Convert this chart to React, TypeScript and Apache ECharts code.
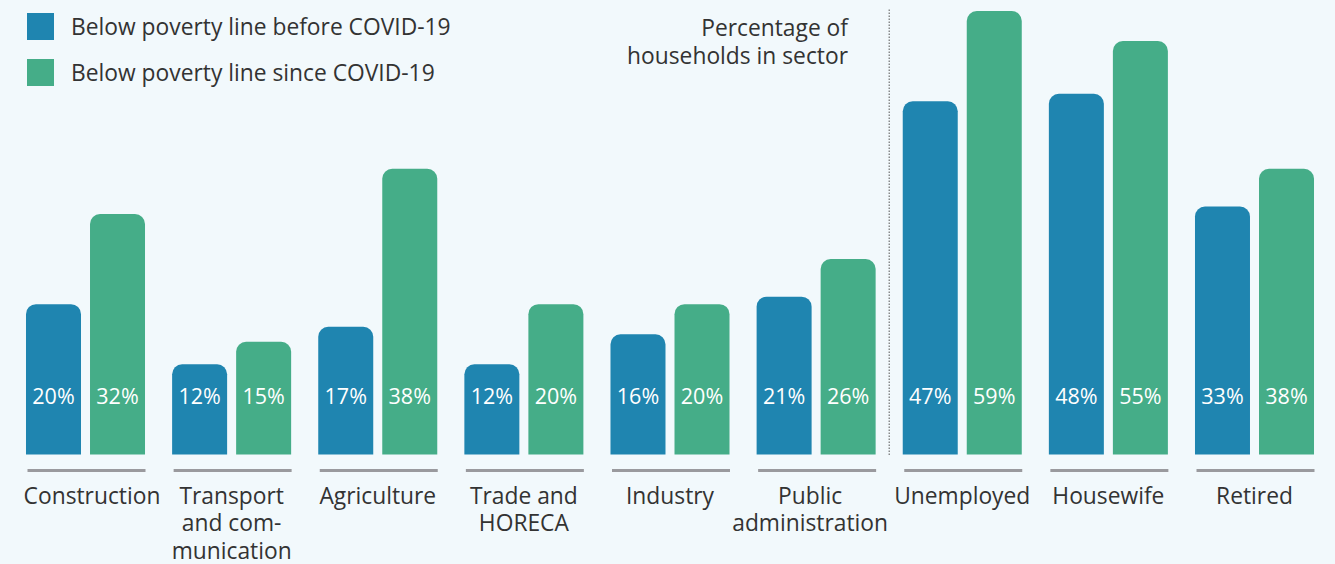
import React, { useEffect, useRef } from "react";
import * as echarts from "echarts";

const categories = [
  "Construction",
  "Transport\nand com-\nmunication",
  "Agriculture",
  "Trade and\nHORECA",
  "Industry",
  "Public\nadministration",
  "Unemployed",
  "Housewife",
  "Retired",
];
const beforeCovid = [20, 12, 17, 12, 16, 21, 47, 48, 33];
const sinceCovid = [32, 15, 38, 20, 20, 26, 59, 55, 38];
const seriesNames = ["Below poverty line before COVID-19", "Below poverty line since COVID-19"];
const sectorNoteLines = ["Percentage of", "households in sector"];
const dividerIndex = 6;

const BLUE = "#1f85b0";
const GREEN = "#45ad88";
const BG = "#f2f9fc";
const TEXT = "#333333";
const FONT = "'Open Sans', 'Noto Sans', sans-serif";

export default function App() {
  const ref = useRef<HTMLDivElement>(null);
  useEffect(() => {
    if (!ref.current) return;
    const chart = echarts.init(ref.current, undefined, { renderer: "svg" });
    const barLabel = {
      show: true,
      position: "insideBottom",
      distance: 48,
      color: "#ffffff",
      fontSize: 21.5,
      fontFamily: FONT,
      formatter: (p: any) => p.value + "%",
    };
    const richBase = { fontSize: 22.8, lineHeight: 27.5, color: TEXT, fontFamily: FONT };
    chart.setOption({
      animation: false,
      backgroundColor: BG,
      textStyle: { fontFamily: FONT },
      legend: {
        data: seriesNames,
        orient: "vertical",
        left: 27,
        top: 13,
        padding: 0,
        itemWidth: 27,
        itemHeight: 27,
        itemGap: 19,
        icon: "rect",
        textStyle: { fontSize: 22.8, color: TEXT, fontFamily: FONT, padding: [0, 0, 0, 12] },
        selectedMode: false,
      },
      graphic: sectorNoteLines.map((t, k) => ({
        type: "text",
        x: 848,
        y: 27 + k * 28,
        style: {
          text: t,
          fontSize: 22.8,
          fill: TEXT,
          fontFamily: FONT,
          align: "right",
          verticalAlign: "middle",
        },
      })),
      grid: { left: 12.44, right: 7.44, top: 3.5, bottom: 107, containLabel: false },
      xAxis: {
        type: "category",
        data: categories,
        axisLine: { show: false },
        axisTick: { show: false },
        axisLabel: {
          margin: 27,
          fontSize: 22.8,
          lineHeight: 27.5,
          color: TEXT,
          fontFamily: FONT,
          interval: 0,
          formatter: (v: string, i: number) => {
            if (i === 0) return "{sr|" + v + "}";
            if (i === 5)
              return v
                .split("\n")
                .map((s) => "{sl|" + s + "}")
                .join("\n");
            return v;
          },
          rich: {
            sr: { ...richBase, padding: [0, 0, 0, 13] },
            sl: { ...richBase, padding: [0, 12, 0, 0] },
          },
        },
      },
      yAxis: {
        type: "value",
        min: 0,
        max: 60,
        show: false,
        splitLine: { show: false },
      },
      series: [
        {
          name: seriesNames[0],
          type: "bar",
          data: beforeCovid,
          barWidth: 55,
          barGap: "16.4%",
          itemStyle: { color: BLUE, borderRadius: [10, 10, 0, 0] },
          label: barLabel,
        },
        {
          name: seriesNames[1],
          type: "bar",
          data: sinceCovid,
          barWidth: 55,
          itemStyle: { color: GREEN, borderRadius: [10, 10, 0, 0] },
          label: barLabel,
        },
        {
          type: "custom",
          silent: true,
          clip: false,
          data: categories.map((_, i) => [i, 0]),
          encode: { x: 0, y: 1 },
          renderItem: (params: any, api: any) => {
            const i = api.value(0);
            const pt = api.coord([i, 0]);
            const band = api.size([1, 0])[0];
            const children: any[] = [
              {
                type: "line",
                shape: { x1: pt[0] - 58, y1: pt[1] + 16, x2: pt[0] + 60, y2: pt[1] + 16 },
                style: { stroke: "#9a9a9e", lineWidth: 3 },
              },
            ];
            if (i === dividerIndex) {
              const top = api.coord([i, 59.2]);
              const x = pt[0] - band / 2;
              children.push({
                type: "line",
                shape: { x1: x, y1: top[1], x2: x, y2: pt[1] + 1 },
                style: { stroke: "#555555", lineWidth: 1, lineDash: [1.5, 1.5] },
              });
            }
            return { type: "group", children };
          },
        },
      ],
    });
    return () => chart.dispose();
  }, []);
  return (
    <div
      ref={ref}
      style={{ position: "absolute", left: 0, top: 0, width: 1335, height: 564, background: BG }}
    />
  );
}
